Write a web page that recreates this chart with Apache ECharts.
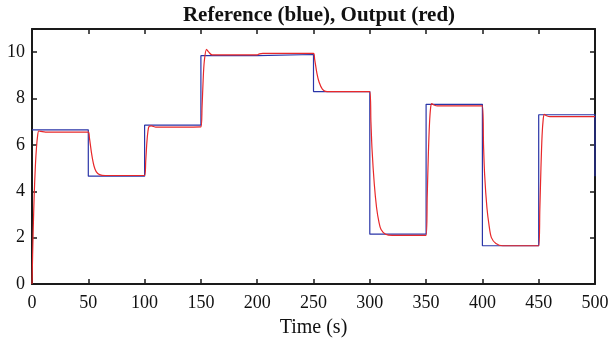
<!DOCTYPE html>
<html>
<head>
<meta charset="utf-8">
<script src="https://cdn.jsdelivr.net/npm/echarts@6/dist/echarts.min.js"></script>
<style>
  html, body { margin: 0; padding: 0; background: #fff; }
  #chart { width: 610px; height: 339px; }
</style>
</head>
<body>
<div id="chart"></div>
<script>
// reference setpoint (start time of each step, value)
const referenceSteps = [
  [0, 6.65], [50, 4.65], [100, 6.85], [150, 9.85], [200, 9.9],
  [250, 8.3], [300, 2.15], [350, 7.75], [400, 1.65], [450, 7.3], [500, 4.65]
]

// plant output
const outputPoints = [
  [0, 0], [1, 2.2], [2, 3.9], [3, 5.1], [4, 5.9], [5, 6.4], [6, 6.6], [8, 6.58], [12, 6.55], [50, 6.55],
  [51, 6.3], [53, 5.6], [55, 5.1], [57, 4.85], [60, 4.72], [65, 4.68], [100, 4.68],
  [101, 5.3], [102, 6.1], [103, 6.6], [104, 6.8], [106, 6.82], [110, 6.77], [150, 6.78],
  [151, 7.6], [152, 8.8], [153, 9.6], [155, 10.12], [157, 10.0], [160, 9.88], [200, 9.88],
  [202, 9.93], [205, 9.95], [250, 9.95],
  [251, 9.7], [253, 9.1], [255, 8.7], [258, 8.4], [262, 8.3], [300, 8.3],
  [301, 7.0], [302, 5.8], [304, 4.3], [306, 3.3], [308, 2.7], [310, 2.35], [314, 2.15], [320, 2.1], [350, 2.1],
  [351, 3.8], [352, 5.6], [353, 6.9], [354, 7.6], [355, 7.78], [357, 7.72], [360, 7.68], [400, 7.68],
  [401, 6.0], [402, 4.7], [404, 3.3], [406, 2.5], [408, 2.0], [412, 1.75], [418, 1.65], [450, 1.65],
  [451, 3.2], [452, 5.0], [453, 6.4], [454, 7.1], [455, 7.32], [457, 7.26], [460, 7.22], [500, 7.22]
]

const titleText = 'Reference (blue), Output (red)'
const xLabel = 'Time (s)'

const font = 'Liberation Serif'
const axisBlack = '#1a1a1a'

const chart = echarts.init(document.getElementById('chart'), null, { renderer: 'canvas' })

const boxAxis = (extra) => Object.assign({
  type: 'value',
  axisLine: { show: true, onZero: false, lineStyle: { color: axisBlack, width: 2 } },
  axisTick: { show: true, inside: true, length: 5, lineStyle: { color: axisBlack, width: 1.5 } },
  splitLine: { show: false },
}, extra)

chart.setOption({
  animation: false,
  title: {
    text: titleText,
    left: 314,
    top: 0,
    textAlign: 'center',
    textStyle: { fontFamily: font, fontSize: 21, fontWeight: 'bold', color: '#111' },
  },
  // keep the plot box fixed, labels may sit at the edges
  grid: { left: 32, right: 15, top: 29, bottom: 55, outerBoundsMode: 'none' },
  xAxis: [
    boxAxis({
      min: 0, max: 500, interval: 50,
      name: xLabel, nameLocation: 'middle', nameGap: 34,
      nameTextStyle: { fontFamily: font, fontSize: 20, color: '#111' },
      axisLabel: { fontFamily: font, fontSize: 18, color: '#111', margin: 10 },
    }),
    boxAxis({
      position: 'top', min: 0, max: 500, interval: 50,
      axisLabel: { show: false },
    }),
  ],
  yAxis: [
    boxAxis({
      min: 0, max: 11, interval: 2,
      axisLabel: {
        fontFamily: font, fontSize: 18, color: '#111', margin: 7,
        formatter: (v) => (v % 2 === 0 && v <= 10 ? String(v) : ''),
      },
    }),
    boxAxis({
      position: 'right', min: 0, max: 11, interval: 2,
      axisLabel: { show: false },
    }),
  ],
  series: [
    {
      name: 'reference',
      type: 'line',
      step: 'end',
      showSymbol: false,
      lineStyle: { color: '#2a35a8', width: 1.2 },
      data: referenceSteps,
      z: 2,
    },
    {
      name: 'output',
      type: 'line',
      showSymbol: false,
      smooth: 0.3,
      lineStyle: { color: '#e8282a', width: 1.2 },
      data: outputPoints,
      z: 3,
    },
  ],
})
</script>
</body>
</html>
